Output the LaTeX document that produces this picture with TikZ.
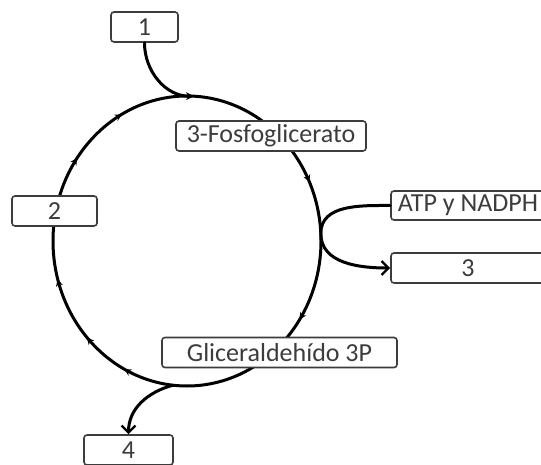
\documentclass[tikz,border=0pt]{standalone}
\usepackage{fontspec}
\setmainfont{Carlito}
\usetikzlibrary{arrows.meta,decorations.markings,calc}
\definecolor{grisbox}{HTML}{3C3C3C}
\tikzset{
  caja/.style={draw=grisbox, line width=1.6pt, rounded corners=3pt, fill=white,
    text=grisbox, minimum height=30pt, inner sep=0pt},
  flecha/.style={line width=3pt, -{Straight Barb[length=7pt,width=14pt,line width=2.4pt]}},
  puntita/.style={line width=3pt, -{Stealth[length=8pt,width=8pt]}},
  ciclo/.style={line width=3pt, postaction={decorate},
    decoration={markings,
      mark=at position 0.181 with {\arrow{Stealth[length=7pt,width=7pt]}},
      mark=at position 0.344 with {\arrow{Stealth[length=7pt,width=7pt]}},
      mark=at position 0.575 with {\arrow{Stealth[length=7pt,width=7pt]}},
      mark=at position 0.631 with {\arrow{Stealth[length=7pt,width=7pt]}},
      mark=at position 0.706 with {\arrow{Stealth[length=7pt,width=7pt]}},
      mark=at position 0.850 with {\arrow{Stealth[length=7pt,width=7pt]}},
      mark=at position 0.922 with {\arrow{Stealth[length=7pt,width=7pt]}}}}
}
\begin{document}
\begin{tikzpicture}[x=1pt, y=1pt, font=\fontsize{26}{30}\selectfont, line join=round, line cap=round]
  \def\rx{134} \def\ry{145}
  \useasboundingbox (0,0) rectangle (541,464);
  \clip (0,0) rectangle (541,464);
  \coordinate (c) at (187,223);
  % ciclo
  \draw[ciclo] ($(c)+(90:\rx\space and \ry)$) arc[start angle=90, end angle=-270, x radius=\rx, y radius=\ry];
  \coordinate (arriba) at ($(c)+(87:\rx\space and \ry)$);
  \coordinate (der) at ($(c)+(3:\rx\space and \ry)$);
  \coordinate (abajo) at ($(c)+(264:\rx\space and \ry)$);
  % cajas
  \node[caja, minimum width=67pt] (n1) at (144.5,437) {1};
  \node[caja, minimum width=85pt] (n2) at (54.5,253) {2};
  \node[caja, minimum width=190pt] (fosfo) at (271,328) {3-Fosfoglicerato};
  \node[caja, minimum width=154pt, minimum height=29pt] (atp) at (468,258.5) {ATP y NADPH};
  \node[caja, minimum width=154pt] (n3) at (468,196) {3};
  \node[caja, minimum width=235pt] (glic) at (279.5,111.5) {Gliceraldehído 3P};
  \node[caja, minimum width=89pt] (n4) at (128.5,14) {4};
  % entradas y salidas
  \draw[puntita] (n1.south) to[out=-90, in=180] (arriba);
  \draw[flecha] (atp.west) to[out=180, in=90] (der) to[out=-90, in=180] (n3.west);
  \draw[flecha] (abajo) to[out=195, in=90] (n4.north);
\end{tikzpicture}
\end{document}
